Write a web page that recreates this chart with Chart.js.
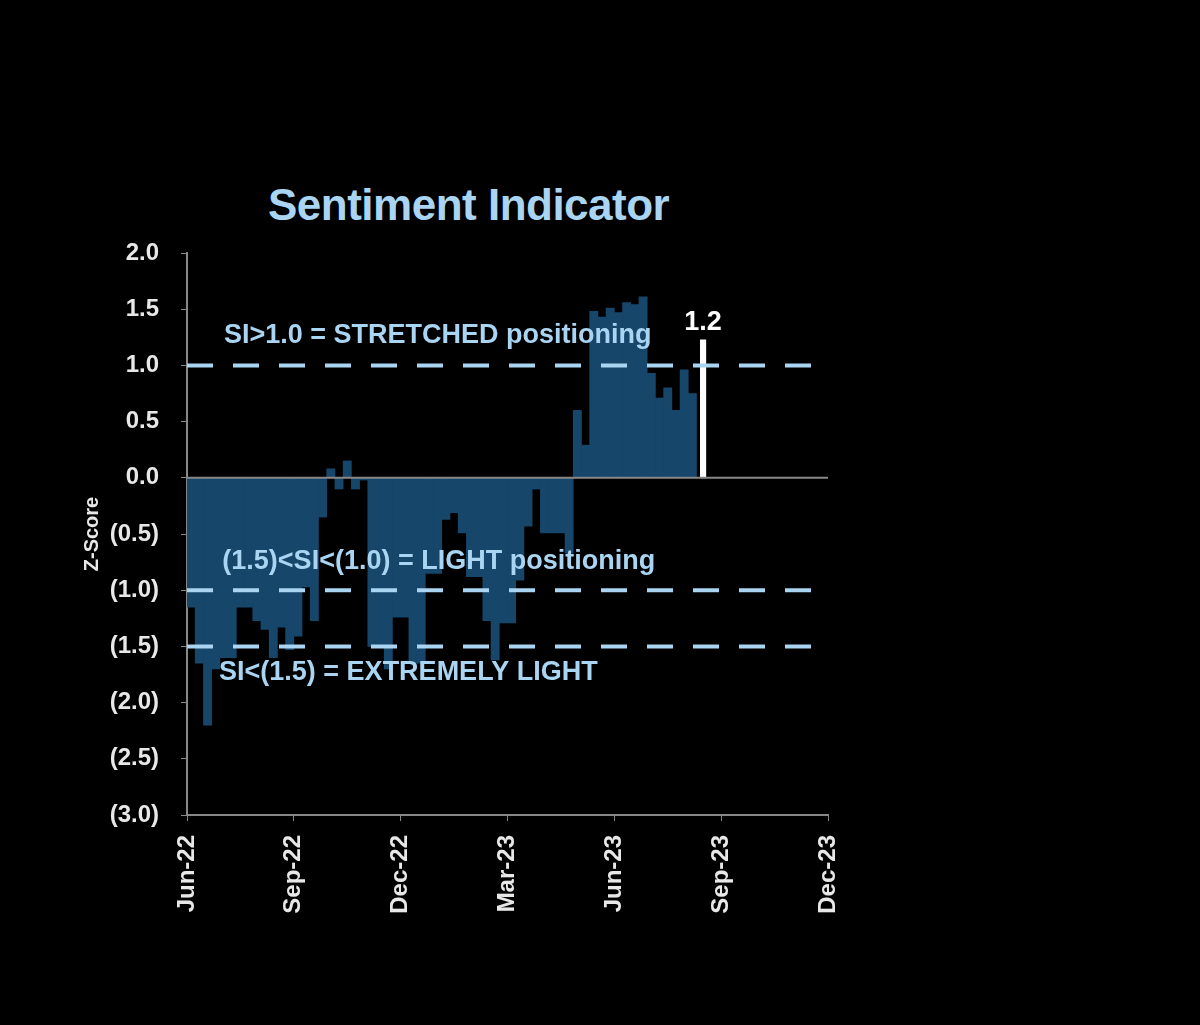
<!DOCTYPE html>
<html><head><meta charset="utf-8">
<script src="https://cdn.jsdelivr.net/npm/chart.js@4/dist/chart.umd.min.js"></script>
<style>
html,body{margin:0;background:#000;width:1200px;height:1025px;overflow:hidden}
#wrap{position:absolute;left:0;top:0;width:1200px;height:1025px}
#title{position:absolute;left:268px;top:180px;font:bold 44px "Liberation Sans",Arial,sans-serif;color:#a9d4f2;letter-spacing:-0.5px}
</style></head><body>
<div id="title">Sentiment Indicator</div>
<div id="wrap"><canvas id="c" width="1200" height="1025"></canvas></div>
<script>
const quarterLabels = ["Jun-22","Sep-22","Dec-22","Mar-23","Jun-23","Sep-23","Dec-23"];
const weeklySI = [-1.15,-1.65,-2.2,-1.7,-1.6,-1.6,-1.15,-1.15,-1.27,-1.35,-1.6,-1.33,-1.53,-1.41,-0.97,-1.27,-0.35,0.08,-0.1,0.15,-0.1,-0.02,-1.5,-1.5,-1.7,-1.24,-1.24,-1.65,-1.65,-0.85,-0.85,-0.37,-0.31,-0.49,-0.88,-0.88,-1.27,-1.62,-1.29,-1.29,-0.91,-0.43,-0.1,-0.49,-0.49,-0.49,-0.67,0.6,0.29,1.48,1.43,1.51,1.47,1.56,1.54,1.61,0.93,0.71,0.8,0.6,0.96,0.75];
const latestSI = 1.23;
const thresholds = [1.0,-1.0,-1.5];
const thresholdText = ["SI>1.0 = STRETCHED positioning","(1.5)<SI<(1.0) = LIGHT positioning","SI<(1.5) = EXTREMELY LIGHT"];
const totalWeeks = 78;

const font = '"Liberation Sans",Arial,sans-serif';
const barData = weeklySI.map((v,i)=>({x:i+0.5,y:v}));
const latestData = [{x:weeklySI.length+0.8,y:latestSI}];
const fmt = v => v<0 ? '('+Math.abs(v).toFixed(1)+')' : v.toFixed(1);

const textPlugin = {
  id:'txt',
  afterDatasetsDraw(chart){
    const {ctx,scales:{x,y}} = chart;
    ctx.save();
    ctx.font = 'bold 27px '+font;
    ctx.fillStyle = '#a9d4f2';
    ctx.textBaseline = 'alphabetic';
    ctx.fillText(thresholdText[0], x.getPixelForValue(4.5), y.getPixelForValue(1.2));
    ctx.fillText(thresholdText[1], x.getPixelForValue(4.3), y.getPixelForValue(-0.81));
    ctx.fillText(thresholdText[2], x.getPixelForValue(3.9), y.getPixelForValue(-1.8));
    ctx.fillStyle = '#ffffff';
    ctx.textAlign = 'center';
    ctx.fillText(fmt(latestSI), x.getPixelForValue(latestData[0].x), y.getPixelForValue(latestSI)-10);
    ctx.restore();
  }
};

const lineDs = thresholds.map(t=>({type:'line',data:[{x:0,y:t},{x:totalWeeks,y:t}],borderColor:'#a9d4f2',borderWidth:4,borderDash:[26,20],pointRadius:0,order:0}));

new Chart(document.getElementById('c'),{
  type:'bar',
  data:{datasets:[
    {data:barData,backgroundColor:'#17466b',barPercentage:1,categoryPercentage:1,grouped:false,order:2},
    {data:latestData,backgroundColor:'#ffffff',barPercentage:0.75,categoryPercentage:1,grouped:false,order:1},
    ...lineDs
  ]},
  options:{
    responsive:false,animation:false,
    layout:{padding:{left:80,right:372,top:253,bottom:90}},
    plugins:{legend:{display:false},tooltip:{enabled:false}},
    scales:{
      x:{type:'linear',min:0,max:totalWeeks,offset:false,
        grid:{display:true,drawOnChartArea:false,drawTicks:true,tickLength:6,color:'#888',offset:false},
        border:{color:'#888',width:2},
        afterBuildTicks(s){s.ticks=quarterLabels.map((_,i)=>({value:i*13}));},
        afterFit(s){s.height=120;},
        ticks:{color:'#e8e8e8',padding:14,font:{family:font,size:24,weight:'bold'},minRotation:90,maxRotation:90,autoSkip:false,
          callback:(v)=>quarterLabels[Math.round(v/13)]}
      },
      y:{min:-3,max:2,
        grid:{display:true,drawOnChartArea:false,tickLength:6,color:'#888'},
        border:{color:'#888',width:2},
        afterFit(s){s.width=107;},
        ticks:{stepSize:0.5,padding:22,color:'#e8e8e8',font:{family:font,size:24,weight:'bold'},callback:v=>fmt(v)},
        title:{display:true,text:'Z-Score',color:'#e8e8e8',font:{family:font,size:20,weight:'bold'},padding:0}
      }
    }
  },
  plugins:[textPlugin,{id:'zero',afterDatasetsDraw(c){const {ctx,scales:{x,y}}=c;ctx.save();ctx.strokeStyle='#888';ctx.lineWidth=2;ctx.beginPath();const yy=y.getPixelForValue(0);ctx.moveTo(x.left,yy);ctx.lineTo(x.right,yy);ctx.stroke();ctx.restore();}}]
});
</script></body></html>
